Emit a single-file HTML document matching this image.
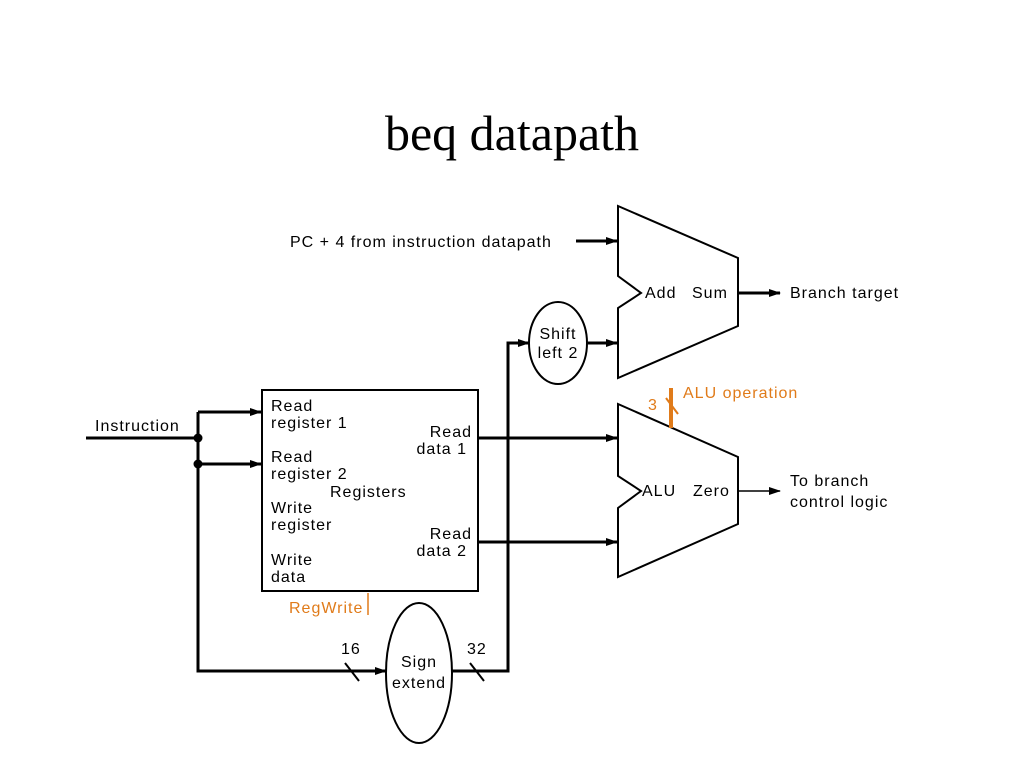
<!DOCTYPE html>
<html><head><style>
body{margin:0;background:#fff;}
svg{display:block}
text{font-family:"Liberation Sans",sans-serif;font-size:16px;fill:#000;letter-spacing:1px}
.o{fill:#e07b1a}
</style></head><body>
<svg width="1024" height="768" viewBox="0 0 1024 768">
<defs><marker id="a" markerWidth="12" markerHeight="8" refX="11" refY="4" orient="auto" markerUnits="userSpaceOnUse"><path d="M0,0 L12,4 L0,8z" fill="#000"/></marker></defs>
<text x="512" y="150" text-anchor="middle" style="font-family:'Liberation Serif',serif;font-size:50px;letter-spacing:0">beq datapath</text>
<g fill="none" stroke="#000" stroke-width="2">
<path d="M618,206 L738,258 L738,326 L618,378 L618,308 L641,293 L618,276 Z"/>
<path d="M618,404 L738,457 L738,524 L618,577 L618,508 L641,491 L618,476 Z"/>
<ellipse cx="558" cy="343" rx="29" ry="41"/>
<ellipse cx="419" cy="673" rx="33" ry="70"/>
<rect x="262" y="390" width="216" height="201"/>
</g>
<g fill="none" stroke="#000" stroke-width="3">
<path d="M86,438 H198"/>
<path d="M198,412 V671 H386" marker-end="url(#a)"/>
<path d="M198,412 H261" marker-end="url(#a)"/>
<path d="M198,464 H261" marker-end="url(#a)"/>
<path d="M452,671 H508 V343 H529" marker-end="url(#a)"/>
<path d="M478,438 H617" marker-end="url(#a)"/>
<path d="M478,542 H617" marker-end="url(#a)"/>
<path d="M588,343 H617" marker-end="url(#a)"/>
<path d="M576,241 H617" marker-end="url(#a)"/>
<path d="M738,293 H780" marker-end="url(#a)"/>
</g>
<path d="M738,491 H780" stroke="#000" stroke-width="1.5" marker-end="url(#a)"/>
<circle cx="198" cy="438" r="4.5"/><circle cx="198" cy="464" r="4.5"/>
<path d="M345,663 L359,681 M470,663 L484,681" stroke="#000" stroke-width="2"/>
<path d="M671,388 V428" stroke="#e07b1a" stroke-width="4"/>
<path d="M666,398 L678,414" stroke="#e07b1a" stroke-width="2"/>
<path d="M368,593 V615" stroke="#e07b1a" stroke-width="1.5"/>
<text x="290" y="247">PC + 4 from instruction datapath</text>
<text x="645" y="298">Add</text><text x="692" y="298">Sum</text>
<text x="790" y="298">Branch target</text>
<text x="558" y="339" text-anchor="middle">Shift</text><text x="558" y="358" text-anchor="middle">left 2</text>
<text x="642" y="496">ALU</text><text x="693" y="496">Zero</text>
<text x="790" y="486">To branch</text><text x="790" y="507">control logic</text>
<text class="o" x="683" y="398">ALU operation</text><text class="o" x="648" y="410">3</text>
<text x="95" y="431">Instruction</text>
<text x="271" y="411">Read</text><text x="271" y="428">register 1</text>
<text x="271" y="462">Read</text><text x="271" y="479">register 2</text>
<text x="330" y="497">Registers</text>
<text x="271" y="513">Write</text><text x="271" y="530">register</text>
<text x="271" y="565">Write</text><text x="271" y="582">data</text>
<text x="472" y="437" text-anchor="end">Read</text><text x="467" y="454" text-anchor="end">data 1</text>
<text x="472" y="539" text-anchor="end">Read</text><text x="467" y="556" text-anchor="end">data 2</text>
<text class="o" x="289" y="613">RegWrite</text>
<text x="341" y="654">16</text><text x="467" y="654">32</text>
<text x="419" y="667" text-anchor="middle">Sign</text><text x="419" y="688" text-anchor="middle">extend</text>
</svg>
</body></html>
